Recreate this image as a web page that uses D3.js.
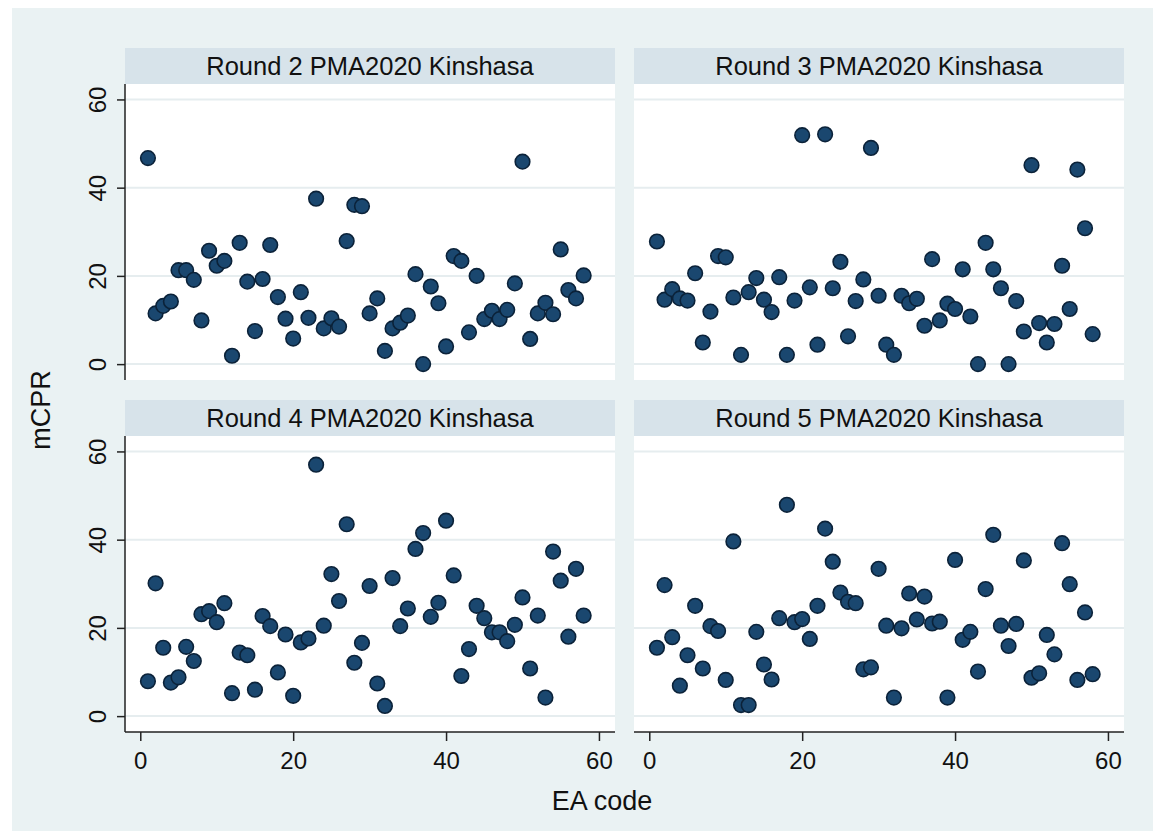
<!DOCTYPE html>
<html>
<head>
<meta charset="utf-8">
<script src="https://cdn.jsdelivr.net/npm/d3@7"></script>
<style>
  html, body { margin: 0; padding: 0; background: #ffffff; }
  svg { display: block; font-family: "Liberation Sans", Arial, Helvetica, sans-serif; }
</style>
</head>
<body>
<svg id="chart" width="1165" height="839"></svg>
<script>
// ---------------- DATA ----------------
const eaCodes = [1,2,3,4,5,6,7,8,9,10,11,12,13,14,15,16,17,18,19,20,21,22,23,24,25,26,27,28,29,30,
                 31,32,33,34,35,36,37,38,39,40,41,42,43,44,45,46,47,48,49,50,51,52,53,54,55,56,57,58];

const round2 = [46.7,11.5,13.2,14.2,21.3,21.3,19.1,9.9,25.7,22.3,23.4,1.9,27.5,18.7,7.5,19.3,27.0,15.2,10.3,5.8,
                16.3,10.5,37.5,8.1,10.4,8.5,27.9,36.1,35.8,11.5,14.9,3.0,8.1,9.4,11.0,20.4,0.0,17.6,13.8,4.0,
                24.5,23.4,7.2,20.0,10.2,12.1,10.2,12.3,18.3,45.9,5.7,11.5,13.9,11.3,26.0,16.8,14.9,20.1];

const round3 = [27.8,14.6,17.0,14.9,14.4,20.6,4.9,11.9,24.5,24.2,15.1,2.1,16.3,19.5,14.6,11.8,19.7,2.1,14.4,51.9,
                17.4,4.4,52.1,17.2,23.2,6.3,14.3,19.2,49.0,15.5,4.4,2.1,15.5,13.8,14.8,8.7,23.8,9.9,13.7,12.5,
                21.5,10.8,0.0,27.5,21.5,17.2,0.0,14.3,7.4,45.1,9.3,4.9,9.1,22.3,12.5,44.1,30.8,6.8];

const round4 = [7.9,30.1,15.5,7.6,8.8,15.7,12.5,23.1,23.8,21.3,25.6,5.2,14.4,13.8,6.0,22.7,20.4,9.9,18.5,4.6,
                16.7,17.6,57.0,20.5,32.2,26.1,43.5,12.1,16.6,29.5,7.4,2.3,31.3,20.4,24.4,37.9,41.5,22.5,25.7,44.3,
                31.9,9.1,15.2,25.0,22.2,19.0,19.0,17.0,20.7,26.9,10.8,22.8,4.2,37.3,30.7,18.0,33.4,22.8];

const round5 = [15.5,29.7,17.9,6.9,13.8,25.0,10.8,20.4,19.3,8.2,39.6,2.5,2.5,19.1,11.7,8.3,22.2,47.9,21.3,22.0,
                17.5,25.0,42.5,35.0,28.0,25.9,25.6,10.6,11.05,33.4,20.5,4.2,19.9,27.8,21.9,27.1,21.0,21.4,4.2,35.4,
                17.3,19.1,10.1,28.8,41.1,20.5,15.9,20.9,35.3,8.7,9.7,18.4,14.0,39.2,29.9,8.2,23.5,9.5];

const panelTitles = ["Round 2 PMA2020 Kinshasa","Round 3 PMA2020 Kinshasa",
                     "Round 4 PMA2020 Kinshasa","Round 5 PMA2020 Kinshasa"];
const xTicks = [0,20,40,60];
const yTicks = [0,20,40,60];
const xTitle = "EA code";
const yTitle = "mCPR";

// ---------------- LAYOUT ----------------
const seriesList = [round2, round3, round4, round5];
const svg = d3.select("#chart");
const W = 1165, H = 839;

const colors = {
  outer: "#eaf2f3",
  strip: "#d7e3ea",
  plot: "#ffffff",
  grid: "#e6edef",
  axis: "#222222",
  marker: "#1a476f",
  markerStroke: "#0b2239",
  text: "#111111"
};

svg.append("rect").attr("x", 12).attr("y", 8).attr("width", W - 24).attr("height", H - 16)
  .attr("fill", colors.outer);

const plotW = 490, plotH = 296, stripH = 36;
const colX = [125, 634];
const rowStripY = [48, 400];

const x = d3.scaleLinear().domain([-2, 62.1]).range([0, plotW]);
const y = d3.scaleLinear().domain([-3.6, 63.5]).range([plotH, 0]);

seriesList.forEach((vals, i) => {
  const col = i % 2, row = Math.floor(i / 2);
  const px = colX[col], sy = rowStripY[row], py = sy + stripH;
  const g = svg.append("g");

  // strip
  g.append("rect").attr("x", px).attr("y", sy).attr("width", plotW).attr("height", stripH)
    .attr("fill", colors.strip);
  g.append("text").attr("x", px + plotW / 2).attr("y", sy + 27)
    .attr("text-anchor", "middle").attr("font-size", 25.5).attr("fill", colors.text)
    .text(panelTitles[i]);

  // plot region
  const p = g.append("g").attr("transform", `translate(${px},${py})`);
  p.append("rect").attr("width", plotW).attr("height", plotH).attr("fill", colors.plot);

  // gridlines
  p.selectAll("line.grid").data(yTicks).join("line")
    .attr("x1", 0).attr("x2", plotW)
    .attr("y1", d => y(d)).attr("y2", d => y(d))
    .attr("stroke", colors.grid).attr("stroke-width", 2);

  // points
  p.selectAll("circle").data(eaCodes.map((c, k) => [c, vals[k]])).join("circle")
    .attr("cx", d => x(d[0])).attr("cy", d => y(d[1])).attr("r", 7.3)
    .attr("fill", colors.marker).attr("stroke", colors.markerStroke).attr("stroke-width", 1.6);

  // y axis on left column
  if (col === 0) {
    const ya = p.append("g").call(d3.axisLeft(y).tickValues(yTicks).tickSize(8).tickFormat(d3.format("d")));
    ya.select(".domain").attr("stroke", colors.axis).attr("stroke-width", 1.5)
      .attr("d", `M0,0V${plotH}`);
    ya.selectAll(".tick line").attr("stroke", colors.axis).attr("stroke-width", 1.5);
    ya.selectAll(".tick text")
      .attr("font-size", 24).attr("fill", colors.text)
      .attr("font-family", "'Liberation Sans', Arial, sans-serif")
      .attr("text-anchor", "middle")
      .attr("x", null).attr("dy", null)
      .attr("transform", "translate(-19,0) rotate(-90)");
  }
  // x axis on bottom row
  if (row === 1) {
    const xa = p.append("g").attr("transform", `translate(0,${plotH})`)
      .call(d3.axisBottom(x).tickValues(xTicks).tickSize(9).tickFormat(d3.format("d")));
    xa.select(".domain").attr("stroke", colors.axis).attr("stroke-width", 1.5)
      .attr("d", `M0,0H${plotW}`);
    xa.selectAll(".tick line").attr("stroke", colors.axis).attr("stroke-width", 1.5);
    xa.selectAll(".tick text")
      .attr("font-size", 24).attr("fill", colors.text)
      .attr("font-family", "'Liberation Sans', Arial, sans-serif")
      .attr("dy", null).attr("y", 37);
  }
});

// axis titles
svg.append("text").attr("x", 602).attr("y", 810).attr("text-anchor", "middle")
  .attr("font-size", 27).attr("fill", colors.text).text(xTitle);
svg.append("text").attr("transform", "translate(50,410) rotate(-90)").attr("text-anchor", "middle")
  .attr("font-size", 27).attr("fill", colors.text).text(yTitle);
</script>
</body>
</html>
